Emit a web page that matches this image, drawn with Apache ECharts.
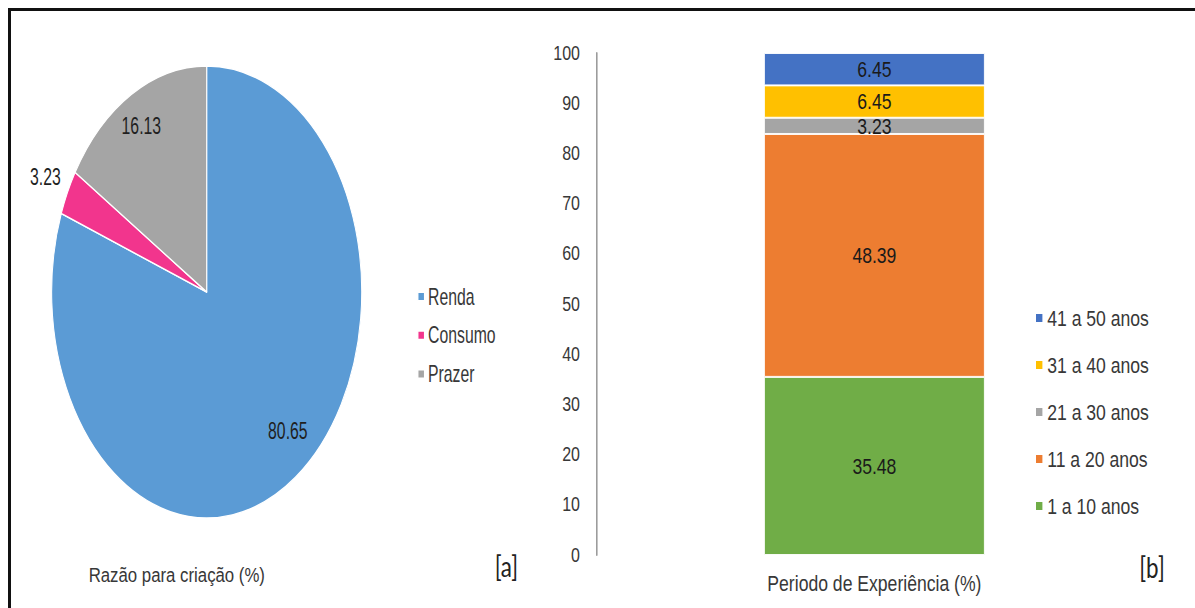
<!DOCTYPE html>
<html><head><meta charset="utf-8">
<script src="https://cdn.jsdelivr.net/npm/echarts@6/dist/echarts.min.js"></script>
<style>
html,body{margin:0;padding:0;background:#fff;width:1195px;height:608px;overflow:hidden;}
#frame{position:absolute;left:8px;top:8px;width:1200px;height:610px;border-top:3px solid #111;border-left:3px solid #111;box-sizing:border-box;}
#cb{position:absolute;left:0;top:0;width:1494px;height:608px;transform:scaleX(0.8);transform-origin:0 0;}
#ca{position:absolute;left:0;top:0;width:1742px;height:608px;transform:scaleX(0.686);transform-origin:0 0;}
</style></head>
<body>
<div id="frame"></div>
<div id="cb"></div>
<div id="ca"></div>
<script>
// ---- data ----
const pieCategories = ['Renda', 'Consumo', 'Prazer'];
const pieValues = [80.65, 3.23, 16.13];
const pieTitle = 'Razão para criação (%)';

const barCategory = ['Periodo de Experiência (%)'];
const stackNames = ['1 a 10 anos', '11 a 20 anos', '21 a 30 anos', '31 a 40 anos', '41 a 50 anos'];
const stackValues = [35.48, 48.39, 3.23, 6.45, 6.45];
const yMin = 0, yMax = 100, yStep = 10;
const panelTags = ['[a]', '[b]'];

// ---- styles ----
const pieColors = ['#5B9BD5', '#F2358D', '#A5A5A5'];
const barColors = ['#70AD47', '#ED7D31', '#A5A5A5', '#FFC000', '#4472C4'];
const pieLabelShift = [[52, 44], [-131, -64], [-39, -65]];
const FONT = 'Liberation Sans, Arial, sans-serif';
const TXT = '#383838';

// ---- bar chart (right) ----
const cb = echarts.init(document.getElementById('cb'), null, {renderer: 'svg'});
cb.setOption({
  animation: false,
  textStyle: {fontFamily: FONT},
  grid: {left: 746, right: 54, top: 53, bottom: 53},
  xAxis: {
    type: 'category', data: barCategory,
    axisLine: {show: false}, axisTick: {show: false},
    axisLabel: {margin: 17, fontSize: 22, color: TXT, fontFamily: FONT}
  },
  yAxis: {
    type: 'value', min: yMin, max: yMax, interval: yStep,
    axisLine: {show: true, lineStyle: {color: '#9c9c9c', width: 2}},
    axisTick: {show: false}, splitLine: {show: false},
    axisLabel: {margin: 21, fontSize: 20, color: TXT, fontFamily: FONT}
  },
  legend: {
    orient: 'vertical', left: 1293, top: 307, padding: 0,
    itemWidth: 10, itemHeight: 10, itemGap: 25, icon: 'rect',
    data: stackNames.slice().reverse(),
    textStyle: {fontSize: 22, lineHeight: 22, color: TXT, fontFamily: FONT}
  },
  series: stackNames.map((n, i) => ({
    type: 'bar', name: n, stack: 'total', data: [stackValues[i]],
    barWidth: 276,
    itemStyle: {color: barColors[i], borderColor: '#fff', borderWidth: 1},
    label: {show: true, position: 'inside', fontSize: 22, color: '#1a1a1a', fontFamily: FONT},
    emphasis: {disabled: true}
  })),
  graphic: [
    {type: 'text', x: 221, y: 575, style: {text: pieTitle, font: '21px ' + FONT, fill: TXT, textAlign: 'center', textVerticalAlign: 'middle'}},
    {type: 'text', x: 633, y: 566, style: {text: panelTags[0], font: '28px Lato, sans-serif', fill: '#222', textAlign: 'center', textVerticalAlign: 'middle'}},
    {type: 'text', x: 1440, y: 567, style: {text: panelTags[1], font: '28px Lato, sans-serif', fill: '#222', textAlign: 'center', textVerticalAlign: 'middle'}}
  ]
});

// ---- pie chart (left) ----
const ca = echarts.init(document.getElementById('ca'), null, {renderer: 'svg'});
ca.setOption({
  animation: false,
  textStyle: {fontFamily: FONT},
  legend: {
    orient: 'vertical', left: 608, top: 285, padding: 0,
    itemWidth: 10, itemHeight: 9, itemGap: 15.7, icon: 'rect',
    data: pieCategories,
    textStyle: {fontSize: 23, lineHeight: 23, color: TXT, fontFamily: FONT}
  },
  series: [{
    type: 'pie', center: [301.3, 292], radius: [0, 226],
    startAngle: 90, clockwise: true,
    data: pieCategories.map((n, i) => ({name: n, value: pieValues[i], itemStyle: {color: pieColors[i]}})),
    itemStyle: {borderColor: '#fff', borderWidth: 1.5},
    label: {show: true, position: 'inside', formatter: '{c}', fontSize: 23, color: '#1f1f1f', fontFamily: FONT},
    labelLine: {show: false},
    labelLayout: p => ({dx: pieLabelShift[p.dataIndex][0], dy: pieLabelShift[p.dataIndex][1]}),
    emphasis: {disabled: true}
  }]
});
</script>
</body></html>
